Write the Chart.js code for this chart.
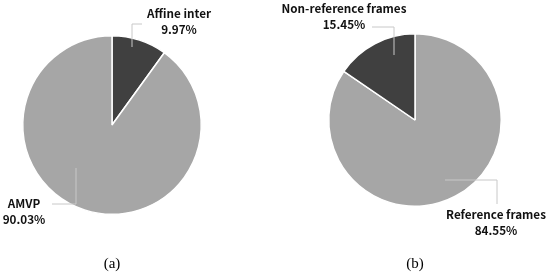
<!DOCTYPE html>
<html>
<head>
<meta charset="utf-8">
<script src="https://cdn.jsdelivr.net/npm/chart.js@4"></script>
<style>
  body { margin: 0; background: #fff; }
  #wrap { position: relative; width: 550px; height: 277px; }
  canvas { position: absolute; top: 0; }
</style>
</head>
<body>
<div id="wrap">
  <canvas id="pieA" width="275" height="277" style="left:0"></canvas>
  <canvas id="pieB" width="275" height="277" style="left:275px"></canvas>
</div>
<script>
const labelsA = ["Affine inter", "AMVP"];
const valuesA = [9.97, 90.03];
const labelsB = ["Reference frames", "Non-reference frames"];
const valuesB = [84.55, 15.45];

const labelFont = "bold 11.7px 'Noto Sans CJK KR', 'Noto Sans', sans-serif";

// leader lines + labels, positions in canvas pixels
const calloutPlugin = {
  id: "callouts",
  afterDraw(chart, args, opts) {
    const ctx = chart.ctx;
    const ds = chart.data.datasets[0];
    ctx.save();
    ctx.strokeStyle = "#c8c8c8";
    ctx.lineWidth = 1;
    opts.items.forEach((it) => {
      ctx.beginPath();
      it.line.forEach((p, i) => (i ? ctx.lineTo(p[0], p[1]) : ctx.moveTo(p[0], p[1])));
      ctx.stroke();
      ctx.fillStyle = "#111";
      ctx.font = labelFont;
      ctx.textAlign = "center";
      ctx.textBaseline = "middle";
      ctx.fillText(chart.data.labels[it.index], it.x, it.y);
      ctx.fillText(ds.data[it.index].toFixed(2) + "%", it.x, it.y + 16);
    });
    ctx.font = "15px 'Liberation Serif', serif";
    ctx.fillStyle = "#000";
    ctx.textAlign = "center";
    ctx.textBaseline = "middle";
    ctx.fillText(opts.caption, opts.captionX, 264);
    ctx.restore();
  },
};

function makePie(id, labels, values, colors, padding, callouts) {
  return new Chart(document.getElementById(id), {
    type: "pie",
    data: {
      labels,
      datasets: [{
        data: values,
        backgroundColor: colors,
        borderColor: "#ffffff",
        borderWidth: 1.5,
        hoverOffset: 0,
      }],
    },
    options: {
      responsive: false,
      animation: false,
      layout: { padding },
      plugins: {
        legend: { display: false },
        tooltip: { enabled: false },
        callouts,
      },
    },
    plugins: [calloutPlugin],
  });
}

makePie("pieA", labelsA, valuesA, ["#404040", "#a6a6a6"],
  { left: 22, right: 73, top: 35, bottom: 62 },
  {
    caption: "(a)", captionX: 112,
    items: [
      { index: 0, x: 179, y: 14, line: [[132, 47], [132, 24], [142, 24]] },
      { index: 1, x: 24, y: 204, line: [[76, 168], [76, 204], [52, 204]] },
    ],
  });

makePie("pieB", labelsB, valuesB, ["#a6a6a6", "#404040"],
  { left: 53, right: 48, top: 33, bottom: 70 },
  {
    caption: "(b)", captionX: 140,
    items: [
      { index: 1, x: 69, y: 9, line: [[119, 55], [119, 27], [97, 27]] },
      { index: 0, x: 221, y: 215, line: [[170, 180], [222, 180], [222, 204]] },
    ],
  });
</script>
</body>
</html>
